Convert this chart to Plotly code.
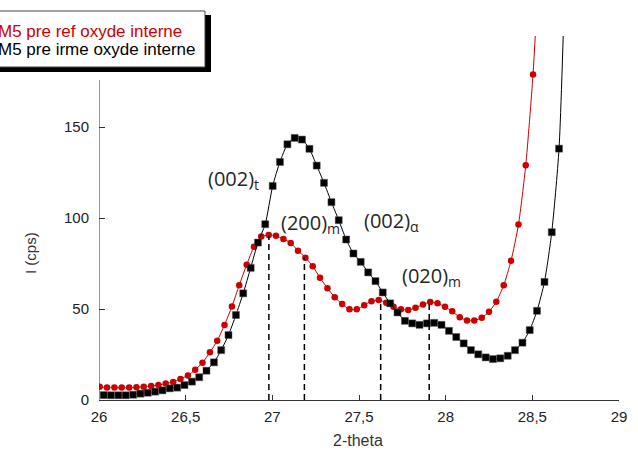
import plotly.graph_objects as go

# ---------------- data ----------------
x_ref = [26.004, 26.046, 26.089, 26.131, 26.174, 26.216, 26.258, 26.301, 26.343, 26.385,
         26.428, 26.470, 26.513, 26.555, 26.597, 26.640, 26.682, 26.724, 26.767, 26.809,
         26.852, 26.894, 26.936, 26.979, 27.021, 27.064, 27.106, 27.148, 27.191, 27.233,
         27.275, 27.318, 27.360, 27.403, 27.445, 27.487, 27.530, 27.572, 27.614, 27.657,
         27.699, 27.742, 27.784, 27.826, 27.869, 27.911, 27.953, 27.996, 28.038, 28.081,
         28.123, 28.165, 28.208, 28.250, 28.292, 28.335, 28.377, 28.420, 28.462, 28.504,
         28.547]
y_ref = [7.3, 6.8, 6.8, 6.8, 6.8, 7.0, 7.3, 7.7, 8.2, 9.0,
         9.9, 11.5, 13.5, 16.6, 20.5, 26.2, 32.6, 41.2, 51.4, 63.1,
         74.3, 84.2, 89.8, 90.6, 90.2, 88.5, 86.3, 82.0, 78.2, 73.5,
         67.2, 61.4, 56.5, 52.7, 49.8, 49.8, 52.1, 54.3, 54.9, 53.4,
         51.2, 49.8, 49.4, 50.7, 52.5, 53.8, 53.1, 51.2, 48.7, 45.4,
         43.7, 43.7, 45.2, 48.5, 54.0, 63.1, 76.5, 96.4, 129.0, 178.9,
         255.0]

x_irme = [26.027, 26.069, 26.112, 26.154, 26.197, 26.239, 26.281, 26.324, 26.366, 26.408,
          26.451, 26.493, 26.536, 26.578, 26.620, 26.663, 26.705, 26.747, 26.790, 26.832,
          26.875, 26.917, 26.959, 27.002, 27.044, 27.087, 27.129, 27.171, 27.214, 27.256,
          27.298, 27.341, 27.383, 27.426, 27.468, 27.510, 27.553, 27.595, 27.637, 27.680,
          27.722, 27.765, 27.807, 27.849, 27.892, 27.934, 27.976, 28.019, 28.061, 28.104,
          28.146, 28.188, 28.231, 28.273, 28.315, 28.358, 28.400, 28.443, 28.485, 28.527,
          28.570, 28.612, 28.654, 28.697]
y_irme = [2.7, 2.6, 2.6, 2.6, 2.9, 3.5, 4.0, 4.6, 5.3, 6.4,
          6.8, 8.2, 10.1, 12.5, 16.1, 20.7, 27.4, 35.7, 46.7, 58.6,
          72.6, 86.5, 96.6, 117.6, 130.8, 140.5, 144.0, 143.1, 138.0, 128.8,
          119.3, 108.7, 98.8, 88.2, 80.5, 75.9, 70.1, 65.3, 59.1, 53.1,
          48.1, 43.5, 42.1, 41.3, 42.1, 42.4, 41.3, 38.0, 34.6, 31.1,
          27.4, 25.1, 23.4, 22.5, 22.9, 24.3, 27.4, 31.5, 38.4, 49.0,
          64.9, 92.2, 138.1, 260.0]

series_names = ["M5 pre ref oxyde interne", "M5 pre irme oxyde interne"]

peak_pos = [26.98, 27.185, 27.625, 27.905]
peak_top = [90.0, 78.5, 54.3, 52.5]

peak_labels = ["(002)<sub>t</sub>", "(200)<sub>m</sub>", "(002)<sub>α</sub>", "(020)<sub>m</sub>"]
label_x = [26.62, 27.04, 27.52, 27.735]
label_y = [121.0, 97.0, 98.0, 68.0]

x_ticks = [26, 26.5, 27, 27.5, 28, 28.5, 29]
x_ticktext = ["26", "26,5", "27", "27,5", "28", "28,5", "29"]
y_ticks = [0, 50, 100, 150]

# ---------------- layout helpers ----------------
W, H = 638, 454
L, R, T, B = 99, 19, 36, 54
PW, PH = W - L - R, H - T - B


def px(X):
    return (X - L) / PW


def py(Y):
    return (H - B - Y) / PH


RED = "#cc0000"
BLK = "#000000"

fig = go.Figure()
fig.add_trace(go.Scatter(
    x=x_ref, y=y_ref, mode="lines+markers", name=series_names[0],
    line=dict(color=RED, width=1, shape="spline", smoothing=0.6),
    marker=dict(color=RED, size=6.5, symbol="circle"),
))
fig.add_trace(go.Scatter(
    x=x_irme, y=y_irme, mode="lines+markers", name=series_names[1],
    line=dict(color=BLK, width=1, shape="spline", smoothing=0.6),
    marker=dict(color=BLK, size=7, symbol="square",
                line=dict(color="#555555", width=0.5)),
))

shapes = []
for xp, yt in zip(peak_pos, peak_top):
    shapes.append(dict(type="line", xref="x", yref="y", x0=xp, x1=xp, y0=0, y1=yt,
                       line=dict(color="black", width=1.5, dash="6px,4px"), layer="above"))

# visible part of the y axis line
shapes.append(dict(type="line", xref="x", yref="paper", x0=26, x1=26, y0=0, y1=py(80),
                   line=dict(color="#333333", width=1)))

# legend box with shadow
shapes.append(dict(type="rect", xref="paper", yref="paper",
                   x0=px(-20), x1=px(211), y0=py(72), y1=py(15),
                   fillcolor="black", line=dict(width=0), layer="above"))
shapes.append(dict(type="rect", xref="paper", yref="paper",
                   x0=px(-20), x1=px(205), y0=py(67), y1=py(11),
                   fillcolor="white", line=dict(color="#444444", width=1), layer="above"))

annotations = []
leg_colors = [RED, BLK]
leg_y = [31, 50]
for name, c, yy in zip(series_names, leg_colors, leg_y):
    annotations.append(dict(text=name, xref="paper", yref="paper", x=px(-4), y=py(yy),
                            xanchor="left", yanchor="middle", showarrow=False,
                            font=dict(family="Liberation Sans, Arial", size=17, color=c)))

for t, lx, ly in zip(peak_labels, label_x, label_y):
    annotations.append(dict(text=t, xref="x", yref="y", x=lx, y=ly,
                            xanchor="left", yanchor="middle", showarrow=False,
                            font=dict(family="Open Sans", size=20, color="#262626")))

annotations.append(dict(text="I (cps)", xref="paper", yref="paper", x=px(30), y=py(253),
                        xanchor="center", yanchor="middle", textangle=-90, showarrow=False,
                        font=dict(family="Liberation Sans, Arial", size=15, color="#333333")))
annotations.append(dict(text="2-theta", xref="paper", yref="paper", x=px(358), y=py(440),
                        xanchor="center", yanchor="middle", showarrow=False,
                        font=dict(family="Liberation Sans, Arial", size=16, color="#333333")))

fig.update_layout(
    width=W, height=H,
    margin=dict(l=L, r=R, t=T, b=B, pad=0),
    paper_bgcolor="white", plot_bgcolor="white",
    showlegend=False,
    shapes=shapes, annotations=annotations,
    xaxis=dict(range=[26, 29], tickvals=x_ticks, ticktext=x_ticktext,
               showgrid=False, zeroline=False, showline=True, linecolor="#333333", linewidth=1,
               ticks="inside", ticklen=5, tickcolor="#333333", ticklabelstandoff=3,
               tickfont=dict(family="Liberation Sans, Arial", size=15, color="#222222")),
    yaxis=dict(range=[0, 200], tickvals=y_ticks,
               showgrid=False, zeroline=False, showline=False,
               ticks="inside", ticklen=6, tickcolor="#333333", ticklabelstandoff=9,
               tickfont=dict(family="Liberation Sans, Arial", size=15, color="#222222")),
)

fig.write_html("out.html", config={"displayModeBar": False},
               post_script="document.body.style.margin='0';")
